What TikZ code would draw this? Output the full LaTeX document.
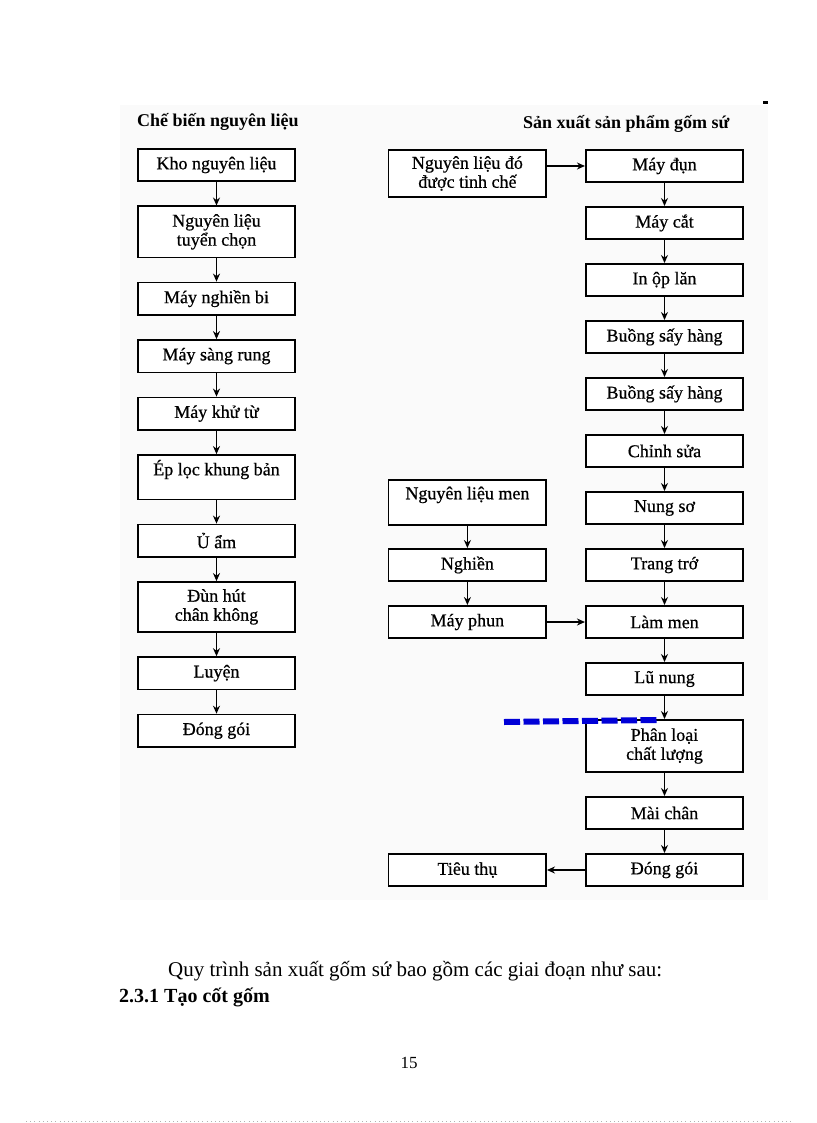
\documentclass[tikz,border=0pt]{standalone}
\usepackage{fontspec}
\setmainfont{Liberation Serif}
\newfontface\boxfont{Liberation Serif}[FakeBold=0.6]
\usetikzlibrary{positioning,arrows.meta}
\definecolor{markblue}{RGB}{0,0,215}

\begin{document}
\begin{tikzpicture}[x=1pt, y=-1pt,
procnode/.style={rectangle, draw=black, line width=1.6pt, fill=white, minimum width=157.5pt, minimum height=32.4pt, inner sep=2pt, align=center, font=\fontsize{18pt}{19pt}\boxfont},
tallnode/.style={procnode, minimum height=51pt},
headnode/.style={inner sep=0pt, font=\fontsize{18pt}{20pt}\selectfont\bfseries},
textnode/.style={inner sep=0pt, font=\fontsize{21pt}{24pt}\selectfont},
flow/.style={->, line width=1.4pt},
>={Stealth[length=8pt, width=7pt]},
node distance=23.5pt and 38pt,
]
\useasboundingbox (0,0) rectangle (816,1123);
\fill[black!2] (120,105) rectangle (768,900);
\fill (763,101.5) rectangle (768,104.5);

%Headers
\node[headnode, anchor=base west] (h1) at (137,127) {Chế biến nguyên liệu};
\node[headnode, anchor=base west] (h2) at (523,129) {Sản xuất sản phẩm gốm sứ};

%Nodes left
\node[procnode, anchor=north] (l1) at (216.5,148) {Kho nguyên liệu};
\node[tallnode]         (l2)  [below=of l1] {Nguyên liệu\\tuyển chọn};
\node[procnode]         (l3)  [below=of l2] {Máy nghiền bi};
\node[procnode]         (l4)  [below=of l3] {Máy sàng rung};
\node[procnode]         (l5)  [below=of l4] {Máy khử từ};
\node[procnode, minimum height=44.4pt] (l6) [below=of l5] {Ép lọc khung bản\\~};
\node[procnode]         (l7)  [below=of l6] {Ủ ẩm};
\node[tallnode, minimum height=50pt] (l8) [below=of l7] {Đùn hút\\chân không};
\node[procnode]         (l9)  [below=of l8] {Luyện};
\node[procnode]         (l10) [below=of l9] {Đóng gói};

%Nodes right
\node[procnode, anchor=north] (r1) at (664.5,149) {Máy đụn};
\node[procnode]         (r2)  [below=23pt of r1] {Máy cắt};
\node[procnode]         (r3)  [below=23pt of r2] {In ộp lăn};
\node[procnode]         (r4)  [below=23pt of r3] {Buồng sấy hàng};
\node[procnode]         (r5)  [below=23pt of r4] {Buồng sấy hàng};
\node[procnode]         (r6)  [below=23pt of r5] {Chỉnh sửa};
\node[procnode]         (r7)  [below=23pt of r6] {Nung sơ};
\node[procnode]         (r8)  [below=23pt of r7] {Trang trớ};
\node[procnode]         (r9)  [below=23pt of r8] {Làm men};
\node[procnode]         (r10) [below=23pt of r9] {Lũ nung};
\node[procnode, minimum height=52.4pt] (r11) [below=23pt of r10] {Phân loại\\chất lượng};
\node[procnode]         (r12) [below=23pt of r11] {Mài chân};
\node[procnode]         (r13) [below=23pt of r12] {Đóng gói};

%Nodes middle
\node[procnode, minimum height=47.4pt] (s0) [left=38pt of r1.north west, anchor=north east] {Nguyên liệu đó\\được tinh chế};
\node[procnode]         (s2)  [left=of r8] {Nghiền};
\node[procnode, minimum height=45.4pt] (s1) [above=22pt of s2] {Nguyên liệu men\\~};
\node[procnode]         (s3)  [left=of r9] {Máy phun};
\node[procnode]         (s4)  [left=of r13] {Tiêu thụ};

%Lines left
\draw[flow] (l1) -- (l2);
\draw[flow] (l2) -- (l3);
\draw[flow] (l3) -- (l4);
\draw[flow] (l4) -- (l5);
\draw[flow] (l5) -- (l6);
\draw[flow] (l6) -- (l7);
\draw[flow] (l7) -- (l8);
\draw[flow] (l8) -- (l9);
\draw[flow] (l9) -- (l10);

%Lines right
\draw[flow] (s0.east |- r1) -- (r1);
\draw[flow] (r1) -- (r2);
\draw[flow] (r2) -- (r3);
\draw[flow] (r3) -- (r4);
\draw[flow] (r4) -- (r5);
\draw[flow] (r5) -- (r6);
\draw[flow] (r6) -- (r7);
\draw[flow] (r7) -- (r8);
\draw[flow] (r8) -- (r9);
\draw[flow] (r9) -- (r10);
\draw[flow] (r10) -- (r11);
\draw[flow] (r11) -- (r12);
\draw[flow] (r12) -- (r13);
\draw[flow] (r13) -- (s4);

%Lines middle
\draw[flow] (s1) -- (s2);
\draw[flow] (s2) -- (s3);
\draw[flow] (s3) -- (r9);

%Blue mark
\coordinate (m1) at (504,722);
\coordinate (m2) at (658,720);
\draw[markblue, line width=6pt, dash pattern=on 16pt off 3.5pt] (m1) -- (m2);

%Page text
\node[textnode, anchor=base west] (t1) at (168,976) {Quy trình sản xuất gốm sứ bao gồm các giai đoạn như sau:};
\node[textnode, anchor=base west, font=\fontsize{20pt}{24pt}\selectfont\bfseries] (t2) at (119,1002) {2.3.1 Tạo cốt gốm};
\node[anchor=base, inner sep=0pt, font=\fontsize{17pt}{20pt}\selectfont] (t3) at (409,1068) {15};
\draw[black!30, line width=0.8pt, dash pattern=on 1pt off 3.2pt] (26,1121) -- (791,1121);
\end{tikzpicture}
\end{document}
